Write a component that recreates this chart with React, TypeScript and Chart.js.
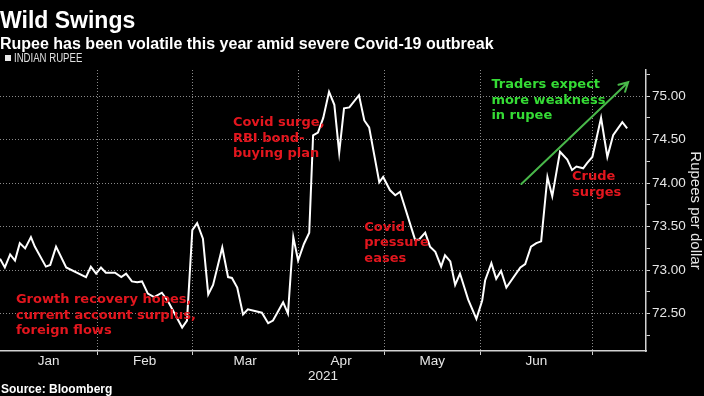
import React, { useEffect, useRef } from 'react';
import { Chart, registerables } from 'chart.js';

Chart.register(...registerables);

// ---- data (x = trading-day position from 1 Jan 2021, y = rupees per dollar) ----
const DAYS = [
  0.0, 1.0, 2.1, 3.1, 4.1, 5.2, 6.4, 7.2, 9.5, 10.4, 11.6, 13.7, 17.8, 18.8, 19.9, 20.9, 21.9, 23.8, 25.1, 26.1,
  27.3, 28.4, 29.4, 30.6, 31.9, 33.5, 34.8, 37.7, 38.7, 39.8, 40.8, 42.0, 43.1, 44.1, 46.0, 47.2, 48.0, 49.1, 50.3, 51.3,
  54.2, 55.5, 56.5, 58.6, 59.6, 60.7, 61.7, 62.9, 64.0, 64.8, 65.8, 66.9, 68.1, 69.2, 70.2, 71.2, 72.3, 74.3, 75.4, 76.4,
  78.5, 79.3, 80.7, 81.8, 82.8, 85.9, 86.7, 88.0, 89.0, 90.1, 91.3, 92.1, 93.2, 94.2, 95.2, 96.9, 98.6, 99.8, 100.4, 101.7,
  102.7, 103.7, 104.8, 107.7, 108.7, 109.9, 111.0, 112.0, 113.3, 114.3, 115.9, 117.4, 118.4, 119.3, 120.7, 121.5, 122.6, 124.4, 125.7, 126.9,
  128.8, 129.8,
];
const RATES = [
  73.13, 73.03, 73.18, 73.11, 73.31, 73.25, 73.38, 73.27, 73.04, 73.06, 73.27, 73.03, 72.92, 73.04, 72.96, 73.03, 72.97, 72.97, 72.92, 72.96,
  72.87, 72.86, 72.87, 72.73, 72.69, 72.74, 72.64, 72.34, 72.42, 73.46, 73.54, 73.36, 72.72, 72.83, 73.26, 72.92, 72.91, 72.80, 72.49, 72.55,
  72.51, 72.39, 72.42, 72.63, 72.50, 73.38, 73.11, 73.30, 73.43, 74.55, 74.58, 74.75, 75.05, 74.90, 74.35, 74.86, 74.87, 75.01, 74.72, 74.64,
  74.01, 74.07, 73.92, 73.86, 73.90, 73.35, 73.35, 73.43, 73.27, 73.21, 73.04, 73.17, 73.10, 72.83, 72.96, 72.66, 72.44, 72.65, 72.88, 73.08,
  72.90, 72.99, 72.80, 73.03, 73.07, 73.27, 73.31, 73.33, 74.07, 73.85, 74.36, 74.27, 74.15, 74.19, 74.17, 74.23, 74.30, 74.75, 74.30, 74.55,
  74.70, 74.63,
];
const MONTHS = ['Jan', 'Feb', 'Mar', 'Apr', 'May', 'Jun'];
const MONTH_STARTS = [0, 20.1, 39.75, 61.7, 79.5, 99.4, 122.6];
const Y_TICKS = [72.25, 72.5, 72.75, 73.0, 73.25, 73.5, 73.75, 74.0, 74.25, 74.5, 74.75, 75.0, 75.25];
const YEAR_LABEL = '2021';
const SERIES_NAME = 'INDIAN RUPEE';

// ---- annotations (anchored in data units) ----
const NOTES = [
  { lines: ['Growth recovery hopes,', 'current account surplus,', 'foreign flows'], x: 3.3, y: 72.66, kind: 'red' },
  { lines: ['Covid surge,', 'RBI bond-', 'buying plan'], x: 48.2, y: 74.69, kind: 'red' },
  { lines: ['Covid', 'pressure', 'eases'], x: 75.4, y: 73.49, kind: 'red' },
  { lines: ['Crude', 'surges'], x: 118.4, y: 74.07, kind: 'red' },
  { lines: ['Traders expect', 'more weakness', 'in rupee'], x: 101.7, y: 75.13, kind: 'green' },
];
const ARROW = { from: [107.9, 73.99], to: [130.0, 75.16] };

const X_MAX = 133.7;
const Y_MIN = 72.07;
const Y_MAX = 75.3;

const RED = '#e3161e';
const GREEN = '#35dc35';
const ARROW_GREEN = '#49b84a';
const GRID = '#8a8a8a';
const AXIS = '#d2d2d2';
const TEXT = '#e6e6e6';
const SANS = '"Liberation Sans", Arial, sans-serif';
const NOTE_FONT = 'bold 13px "DejaVu Sans", Verdana, sans-serif';

const boundaries = MONTH_STARTS.slice(1);
const mids = MONTHS.map((_, i) => (MONTH_STARTS[i] + MONTH_STARTS[i + 1]) / 2);
const near = (a: number, b: number) => Math.abs(a - b) < 1e-6;
const isBoundary = (v: number) => boundaries.some((b) => near(b, v));

const notesPlugin = {
  id: 'notes',
  afterDatasetsDraw(chart: any) {
    const { ctx, scales } = chart;
    const xs = scales.x;
    const ys = scales.y;
    ctx.save();
    const x1 = xs.getPixelForValue(ARROW.from[0]);
    const y1 = ys.getPixelForValue(ARROW.from[1]);
    const x2 = xs.getPixelForValue(ARROW.to[0]);
    const y2 = ys.getPixelForValue(ARROW.to[1]);
    ctx.strokeStyle = ARROW_GREEN;
    ctx.lineWidth = 2;
    ctx.lineCap = 'round';
    ctx.beginPath();
    ctx.moveTo(x1, y1);
    ctx.lineTo(x2, y2);
    const ang = Math.atan2(y2 - y1, x2 - x1);
    const hl = 10;
    ctx.moveTo(x2 - hl * Math.cos(ang - 0.5), y2 - hl * Math.sin(ang - 0.5));
    ctx.lineTo(x2, y2);
    ctx.lineTo(x2 - hl * Math.cos(ang + 0.5), y2 - hl * Math.sin(ang + 0.5));
    ctx.stroke();
    ctx.font = NOTE_FONT;
    ctx.textAlign = 'left';
    ctx.textBaseline = 'middle';
    NOTES.forEach((n) => {
      ctx.fillStyle = n.kind === 'green' ? GREEN : RED;
      const px = xs.getPixelForValue(n.x);
      const py = ys.getPixelForValue(n.y);
      n.lines.forEach((line, i) => ctx.fillText(line, px, py + i * 15.5));
    });
    ctx.restore();
  },
};

export default function App() {
  const ref = useRef<HTMLCanvasElement | null>(null);

  useEffect(() => {
    document.body.style.margin = '0';
    document.body.style.background = '#000';
    const canvas = ref.current;
    if (!canvas) return;
    const chart = new Chart(canvas, {
      type: 'line',
      data: {
        datasets: [
          {
            label: SERIES_NAME,
            data: DAYS.map((d, i) => ({ x: d, y: RATES[i] })),
            borderColor: '#ffffff',
            borderWidth: 2,
            pointRadius: 0,
            tension: 0,
            fill: false,
          },
        ],
      },
      options: {
        responsive: false,
        animation: false,
        layout: { padding: { top: 70, left: 0, right: 0, bottom: 0 } },
        plugins: { legend: { display: false }, tooltip: { enabled: false }, title: { display: false } },
        scales: {
          x: {
            type: 'linear',
            min: 0,
            max: X_MAX,
            afterBuildTicks: (s: any) => {
              s.ticks = [...boundaries, ...mids].sort((a, b) => a - b).map((v) => ({ value: v }));
            },
            afterFit: (s: any) => {
              s.height = 45;
            },
            grid: {
              color: (c: any) => (c.tick && isBoundary(c.tick.value) ? GRID : 'rgba(0,0,0,0)'),
              tickColor: (c: any) => (c.tick && isBoundary(c.tick.value) ? AXIS : 'rgba(0,0,0,0)'),
              tickLength: 4,
              lineWidth: 1,
            },
            border: { color: AXIS, width: 1.5, dash: [1, 2] },
            ticks: {
              autoSkip: false,
              maxRotation: 0,
              color: TEXT,
              padding: -2,
              font: { family: SANS, size: 13.5 },
              callback: (v: any) => {
                const i = mids.findIndex((m) => near(m, Number(v)));
                return i >= 0 ? MONTHS[i] : '';
              },
            },
            title: {
              display: true,
              text: YEAR_LABEL,
              color: TEXT,
              font: { family: SANS, size: 13.5 },
              padding: { top: 0, bottom: 12 },
            },
          },
          y: {
            type: 'linear',
            position: 'right',
            min: Y_MIN,
            max: Y_MAX,
            afterBuildTicks: (s: any) => {
              s.ticks = Y_TICKS.map((v) => ({ value: v }));
            },
            afterFit: (s: any) => {
              s.width = 58;
            },
            grid: {
              color: (c: any) => (c.tick && near(c.tick.value * 2, Math.round(c.tick.value * 2)) ? GRID : 'rgba(0,0,0,0)'),
              tickColor: AXIS,
              tickLength: 4,
              lineWidth: 1,
            },
            border: { color: AXIS, width: 1.5, dash: [1, 2] },
            ticks: {
              autoSkip: false,
              color: TEXT,
              padding: 2,
              font: { family: SANS, size: 13.5 },
              callback: (v: any) => {
                const n = Number(v);
                return near(n * 2, Math.round(n * 2)) ? n.toFixed(2) : '';
              },
            },
            title: {
              display: true,
              text: 'Rupees per dollar',
              color: TEXT,
              font: { family: SANS, size: 15 },
              padding: { top: 0, bottom: 0 },
            },
          },
        },
      } as any,
      plugins: [notesPlugin],
    });
    return () => chart.destroy();
  }, []);

  return (
    <div style={{ position: 'fixed', left: 0, top: 0, width: 704, height: 396, background: '#000', overflow: 'hidden' }}>
      <canvas ref={ref} width={704} height={396} style={{ position: 'absolute', left: 0, top: 0 }} />
      <div style={{ position: 'absolute', left: 0, top: 8.5, font: `bold 23px ${SANS}`, lineHeight: 1, color: '#fff', whiteSpace: 'nowrap' }}>
        Wild Swings
      </div>
      <div style={{ position: 'absolute', left: 0, top: 36, font: `bold 16px ${SANS}`, lineHeight: 1, color: '#fff', whiteSpace: 'nowrap' }}>
        Rupee has been volatile this year amid severe Covid-19 outbreak
      </div>
      <div style={{ position: 'absolute', left: 5, top: 55, width: 6, height: 6, background: '#e8e8e8' }} />
      <div
        style={{
          position: 'absolute',
          left: 14,
          top: 52,
          font: `12px ${SANS}`,
          lineHeight: 1,
          color: '#e0e0e0',
          whiteSpace: 'nowrap',
          transform: 'scaleX(0.8)',
          transformOrigin: 'left top',
        }}
      >
        {SERIES_NAME}
      </div>
      <div style={{ position: 'absolute', left: 1, top: 383, font: `bold 12px ${SANS}`, lineHeight: 1, color: '#fff', whiteSpace: 'nowrap' }}>
        Source: Bloomberg
      </div>
    </div>
  );
}
